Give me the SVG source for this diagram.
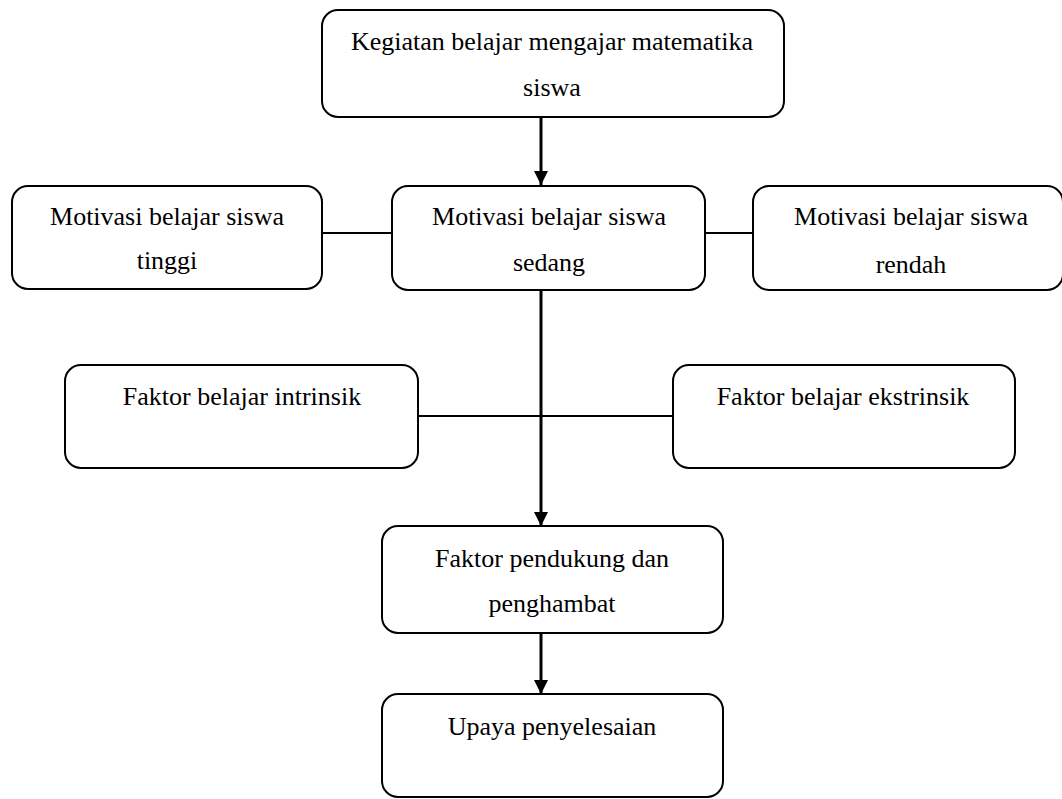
<svg xmlns="http://www.w3.org/2000/svg" width="1062" height="799" viewBox="0 0 1062 799">
<style>
.box{fill:#fff;stroke:#000;stroke-width:2}
.t{font-family:"Liberation Serif","Times New Roman",serif;font-size:26px;fill:#000;text-anchor:middle}
.c{stroke:#000;stroke-width:2;fill:none}
.a{stroke:#000;stroke-width:3;fill:none}
</style>
<defs>
<marker id="arr" markerWidth="16" markerHeight="14" refX="16" refY="8" viewBox="0 0 16 16" orient="auto" markerUnits="userSpaceOnUse">
<path d="M0,0 L16,8 L0,16 Z" fill="#000"/>
</marker>
</defs>
<rect width="1062" height="799" fill="#fff"/>
<g id="connectors">
<line class="a" x1="541" y1="117" x2="541" y2="185" marker-end="url(#arr)"/>
<line class="c" x1="322" y1="233" x2="392" y2="233"/>
<line class="c" x1="705" y1="233" x2="753" y2="233"/>
<line class="a" x1="541" y1="289" x2="541" y2="526" marker-end="url(#arr)"/>
<line class="c" x1="418" y1="416" x2="673" y2="416"/>
<line class="a" x1="541" y1="633" x2="541" y2="694" marker-end="url(#arr)"/>
</g>
<g id="n1">
<rect class="box" x="322" y="10" width="462" height="107" rx="16"/>
<text class="t" x="552" y="50">Kegiatan belajar mengajar matematika</text>
<text class="t" x="552" y="96">siswa</text>
</g>
<g id="n2">
<rect class="box" x="12" y="186" width="310" height="103" rx="16"/>
<text class="t" x="167" y="225">Motivasi belajar siswa</text>
<text class="t" x="167" y="269">tinggi</text>
</g>
<g id="n3">
<rect class="box" x="392" y="186" width="313" height="104" rx="16"/>
<text class="t" x="549" y="225">Motivasi belajar siswa</text>
<text class="t" x="549" y="271">sedang</text>
</g>
<g id="n4">
<rect class="box" x="753" y="186" width="310" height="104" rx="16"/>
<text class="t" x="911" y="225">Motivasi belajar siswa</text>
<text class="t" x="911" y="273">rendah</text>
</g>
<g id="n5">
<rect class="box" x="65" y="365" width="353" height="103" rx="16"/>
<text class="t" x="242" y="405">Faktor belajar intrinsik</text>
</g>
<g id="n6">
<rect class="box" x="673" y="365" width="342" height="103" rx="16"/>
<text class="t" x="843" y="405">Faktor belajar ekstrinsik</text>
</g>
<g id="n7">
<rect class="box" x="382" y="526" width="341" height="107" rx="16"/>
<text class="t" x="552" y="567">Faktor pendukung dan</text>
<text class="t" x="552" y="612">penghambat</text>
</g>
<g id="n8">
<rect class="box" x="382" y="694" width="341" height="103" rx="16"/>
<text class="t" x="552" y="735">Upaya penyelesaian</text>
</g>
</svg>
